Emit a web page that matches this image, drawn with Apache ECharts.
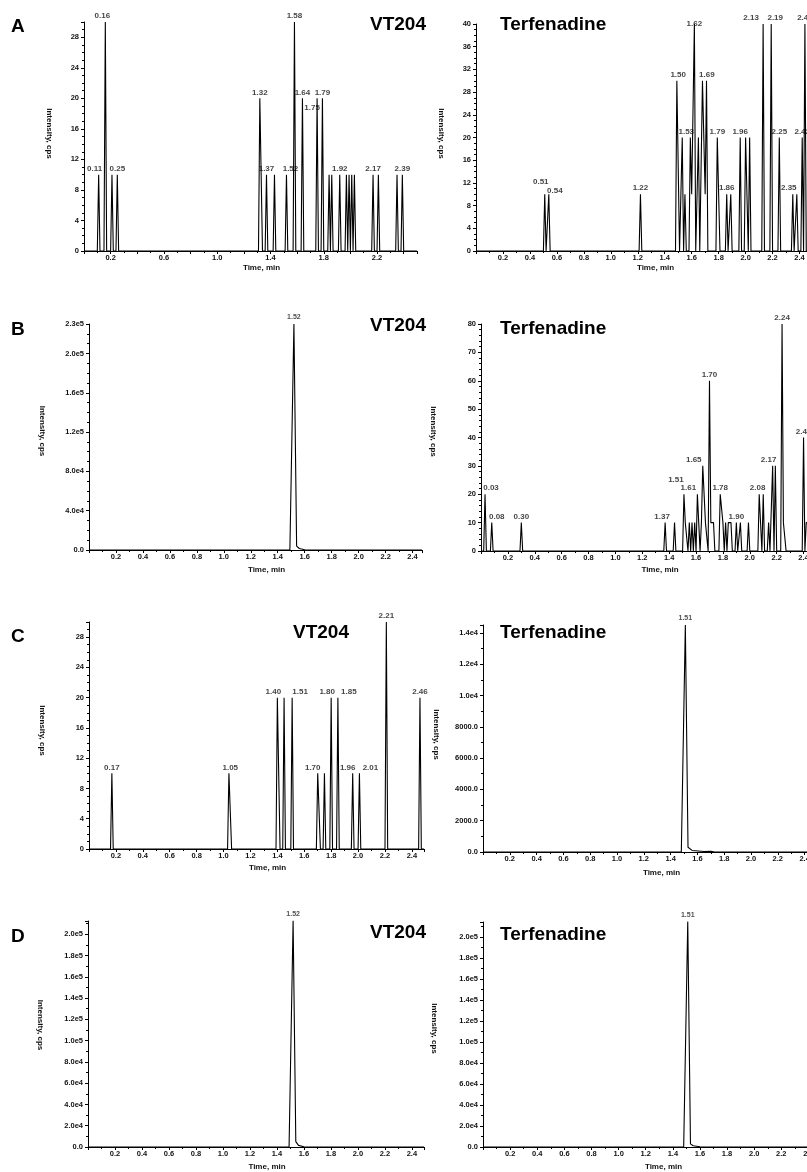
<!DOCTYPE html>
<html>
<head>
<meta charset="utf-8">
<title>VT204 / Terfenadine chromatograms</title>
<script src="https://cdn.jsdelivr.net/npm/echarts@6/dist/echarts.min.js"></script>
<style>
  html, body { margin: 0; padding: 0; background: #fff; }
  #chart { width: 807px; height: 1172px; }
</style>
</head>
<body>
<div id="chart"></div>
<script>
// every trace is a list of [time (min), intensity (cps)] vertices

// A - VT204
var traceVtA = [
  [0, 0], [0.10, 0], [0.11, 10], [0.12, 0], [0.15, 0], [0.16, 30], [0.17, 0], [0.20, 0], [0.21, 10], [0.22, 0],
  [0.24, 0], [0.25, 10], [0.26, 0], [1.31, 0], [1.32, 20], [1.33, 20], [1.34, 0], [1.36, 0], [1.37, 10], [1.38, 0],
  [1.42, 0], [1.43, 10], [1.44, 0], [1.51, 0], [1.52, 10], [1.53, 0], [1.57, 0], [1.58, 30], [1.59, 0], [1.63, 0],
  [1.64, 20], [1.65, 0], [1.74, 0], [1.75, 20], [1.76, 0], [1.78, 0], [1.79, 20], [1.80, 0], [1.83, 0], [1.84, 10],
  [1.85, 0], [1.86, 10], [1.87, 0], [1.91, 0], [1.92, 10], [1.93, 0], [1.96, 0], [1.97, 10], [1.98, 0], [1.99, 10],
  [2.00, 0], [2.01, 10], [2.02, 0], [2.03, 10], [2.04, 0], [2.16, 0], [2.17, 10], [2.18, 0], [2.20, 0], [2.21, 10],
  [2.22, 0], [2.34, 0], [2.35, 10], [2.36, 0], [2.38, 0], [2.39, 10], [2.40, 0], [2.50, 0]
];
var peaksVtA = [
  [0.11, 10, '0.11'], [0.16, 30, '0.16'], [0.25, 10, '0.25'], [1.32, 20, '1.32'], [1.37, 10, '1.37'],
  [1.52, 10, '1.52'], [1.58, 30, '1.58'], [1.64, 20, '1.64'], [1.75, 20, '1.75'], [1.79, 20, '1.79'],
  [1.92, 10, '1.92'], [2.17, 10, '2.17'], [2.39, 10, '2.39']
];

// A - Terfenadine
var traceTerA = [
  [0, 0], [0.50, 0], [0.51, 10], [0.52, 0], [0.53, 0], [0.54, 10], [0.55, 0], [1.21, 0], [1.22, 10], [1.23, 0],
  [1.48, 0], [1.49, 30], [1.50, 30], [1.51, 0], [1.52, 0], [1.53, 20], [1.54, 0], [1.55, 10], [1.56, 0], [1.58, 0],
  [1.59, 20], [1.60, 10], [1.61, 10], [1.62, 40], [1.63, 0], [1.64, 0], [1.65, 20], [1.66, 0], [1.67, 0], [1.68, 30],
  [1.69, 30], [1.70, 10], [1.71, 30], [1.72, 0], [1.78, 0], [1.79, 20], [1.80, 10], [1.81, 0], [1.85, 0], [1.86, 10],
  [1.87, 0], [1.88, 0], [1.89, 10], [1.90, 0], [1.95, 0], [1.96, 20], [1.97, 0], [1.99, 0], [2.00, 20], [2.01, 20],
  [2.02, 0], [2.03, 20], [2.04, 0], [2.12, 0], [2.13, 40], [2.14, 0], [2.18, 0], [2.19, 40], [2.20, 0], [2.24, 0],
  [2.25, 20], [2.26, 0], [2.34, 0], [2.35, 10], [2.36, 0], [2.37, 0], [2.38, 10], [2.39, 0], [2.41, 0], [2.42, 20],
  [2.43, 0], [2.44, 40], [2.45, 0], [2.50, 0]
];
var peaksTerA = [
  [0.51, 10, '0.51'], [0.54, 10, '0.54'], [1.22, 10, '1.22'], [1.50, 30, '1.50'], [1.53, 20, '1.53'],
  [1.62, 40, '1.62'], [1.69, 30, '1.69'], [1.79, 20, '1.79'], [1.86, 10, '1.86'], [1.96, 20, '1.96'],
  [2.13, 40, '2.13'], [2.19, 40, '2.19'], [2.25, 20, '2.25'], [2.35, 10, '2.35'], [2.42, 20, '2.42'],
  [2.44, 40, '2.44']
];

// B - VT204
var traceVtB = [[0, 0], [1.49, 0], [1.52, 230000], [1.54, 4000], [1.56, 1500], [1.60, 300], [1.65, 0], [2.47, 0]];
var peaksVtB = [[1.52, 230000, '1.52']];

// B - Terfenadine
var traceTerB = [
  [0, 0], [0.02, 0], [0.03, 20], [0.04, 0], [0.07, 0], [0.08, 10], [0.09, 0], [0.29, 0], [0.30, 10], [0.31, 0],
  [1.36, 0], [1.37, 10], [1.38, 0], [1.43, 0], [1.44, 10], [1.45, 0], [1.50, 0], [1.51, 20], [1.52, 10], [1.53, 10],
  [1.54, 0], [1.55, 10], [1.56, 0], [1.57, 10], [1.58, 0], [1.59, 10], [1.60, 0], [1.61, 20], [1.62, 10], [1.63, 0],
  [1.64, 10], [1.65, 30], [1.66, 30], [1.67, 10], [1.68, 10], [1.69, 0], [1.70, 60], [1.71, 10], [1.72, 10], [1.73, 10],
  [1.74, 0], [1.77, 0], [1.78, 20], [1.79, 20], [1.80, 10], [1.81, 0], [1.82, 10], [1.83, 0], [1.84, 10], [1.85, 10],
  [1.86, 10], [1.87, 0], [1.89, 0], [1.90, 10], [1.91, 0], [1.92, 0], [1.93, 10], [1.94, 0], [1.98, 0], [1.99, 10],
  [2.00, 0], [2.06, 0], [2.07, 20], [2.08, 20], [2.09, 0], [2.10, 20], [2.11, 0], [2.13, 0], [2.14, 10], [2.15, 0],
  [2.16, 0], [2.17, 30], [2.18, 0], [2.19, 30], [2.20, 0], [2.23, 0], [2.24, 80], [2.25, 10], [2.26, 10], [2.27, 0],
  [2.39, 0], [2.40, 40], [2.41, 0], [2.42, 10], [2.43, 10], [2.44, 10], [2.45, 0], [2.50, 0]
];
var peaksTerB = [
  [0.03, 20, '0.03'], [0.08, 10, '0.08'], [0.30, 10, '0.30'], [1.37, 10, '1.37'], [1.51, 20, '1.51'],
  [1.61, 20, '1.61'], [1.65, 30, '1.65'], [1.70, 60, '1.70'], [1.78, 20, '1.78'], [1.90, 10, '1.90'],
  [2.08, 20, '2.08'], [2.17, 30, '2.17'], [2.24, 80, '2.24'], [2.40, 40, '2.40']
];

// C - VT204
var traceVtC = [
  [0, 0], [0.16, 0], [0.17, 10], [0.18, 0], [1.03, 0], [1.04, 10], [1.05, 10], [1.06, 0], [1.39, 0], [1.40, 20],
  [1.41, 20], [1.42, 0], [1.44, 0], [1.45, 20], [1.46, 0], [1.50, 0], [1.51, 20], [1.52, 0], [1.69, 0], [1.70, 10],
  [1.71, 10], [1.72, 0], [1.74, 0], [1.75, 10], [1.76, 0], [1.79, 0], [1.80, 20], [1.81, 0], [1.84, 0], [1.85, 20],
  [1.86, 0], [1.95, 0], [1.96, 10], [1.97, 0], [2.00, 0], [2.01, 10], [2.02, 0], [2.20, 0], [2.21, 30], [2.22, 0],
  [2.45, 0], [2.46, 20], [2.47, 0], [2.49, 0]
];
var peaksVtC = [
  [0.17, 10, '0.17'], [1.05, 10, '1.05'], [1.40, 20, '1.40'], [1.51, 20, '1.51'], [1.70, 10, '1.70'],
  [1.80, 20, '1.80'], [1.85, 20, '1.85'], [1.96, 10, '1.96'], [2.01, 10, '2.01'], [2.21, 30, '2.21'],
  [2.46, 20, '2.46']
];

// C - Terfenadine
var traceTerC = [[0, 0], [1.48, 0], [1.51, 14500], [1.53, 300], [1.56, 100], [1.65, 30], [1.70, 50], [1.73, 0], [2.50, 0]];
var peaksTerC = [[1.51, 14500, '1.51']];

// D - VT204
var traceVtD = [[0, 0], [1.49, 0], [1.52, 213000], [1.54, 5000], [1.56, 1500], [1.60, 300], [1.65, 0], [2.49, 0]];
var peaksVtD = [[1.52, 213000, '1.52']];

// D - Terfenadine
var traceTerD = [[0, 0], [1.48, 0], [1.51, 215000], [1.53, 3000], [1.55, 1200], [1.60, 300], [1.65, 0], [2.50, 0]];
var peaksTerD = [[1.51, 215000, '1.51']];

// label shifts (px) where the software moved a peak label aside
var nudgeVtA = { '0.11': [-4, 0], '0.16': [-3, 0], '1.52': [4, 0], '1.75': [-5, 15] };
var nudgeTerA = { '0.51': [-4, -6], '0.54': [6, 3], '1.53': [4, 0], '1.62': [0, 6], '1.69': [3, 0], '2.13': [-12, 0], '2.19': [4, 0], '2.35': [-4, 0] };
var nudgeTerB = { '0.03': [6, 0], '0.08': [5, 0], '1.37': [-3, 0], '1.51': [-8, -8], '1.61': [-9, 0], '1.65': [-9, 0], '2.08': [-3, 0], '2.17': [-4, 0] };
var nudgeVtC = { '1.40': [-4, 0], '1.51': [8, 0], '1.70': [-5, 0], '1.80': [-4, 0], '1.85': [11, 0], '1.96': [-5, 0], '2.01': [11, 0] };

var FONT = '"Liberation Sans", Arial, sans-serif';

function fmtInt(v) { return String(v); }
function fmtExp(v) { return v === 0 ? '0.0' : v.toExponential(1).replace('e+', 'e'); }
function fmtMixed(v) { return v >= 10000 ? fmtExp(v) : v.toFixed(1); }

// box = [left, top, width, height] of the plot area in px (right-hand panels run past the page edge)
// yUp = px the "Intensity, cps" title sits above the plot middle
var panels = [
  { trace: traceVtA, peaks: peaksVtA, nudge: nudgeVtA, box: [84, 22, 333, 229], xMax: 2.5, yMax: 30, yStep: 4, yMinor: 4, yFmt: fmtInt, showYMax: false, xEvery: 4, yGap: 31, yUp: 3, xGap: 13, big: false },
  { trace: traceTerA, peaks: peaksTerA, nudge: nudgeTerA, box: [476, 24, 337, 227], xMax: 2.5, yMax: 40, yStep: 4, yMinor: 4, yFmt: fmtInt, showYMax: true, xEvery: 2, yGap: 31, yUp: 4, xGap: 13, big: false },
  { trace: traceVtB, peaks: peaksVtB, nudge: {}, box: [89, 324, 333, 226], xMax: 2.47, yMax: 230000, yStep: 40000, yMinor: 4, yFmt: fmtExp, showYMax: true, xEvery: 2, yGap: 43, yUp: 6, xGap: 16, big: true },
  { trace: traceTerB, peaks: peaksTerB, nudge: nudgeTerB, box: [481, 324, 336, 227], xMax: 2.5, yMax: 80, yStep: 10, yMinor: 5, yFmt: fmtInt, showYMax: true, xEvery: 2, yGap: 44, yUp: 6, xGap: 15, big: false },
  { trace: traceVtC, peaks: peaksVtC, nudge: nudgeVtC, box: [89, 622, 335, 227], xMax: 2.49, yMax: 30, yStep: 4, yMinor: 4, yFmt: fmtInt, showYMax: false, xEvery: 2, yGap: 43, yUp: 5, xGap: 15, big: false },
  { trace: traceTerC, peaks: peaksTerC, nudge: {}, box: [483, 625, 335, 227], xMax: 2.5, yMax: 14500, yStep: 2000, yMinor: 2, yFmt: fmtMixed, showYMax: false, xEvery: 2, yGap: 43, yUp: 4, xGap: 17, big: true },
  { trace: traceVtD, peaks: peaksVtD, nudge: {}, box: [88, 921, 336, 226], xMax: 2.49, yMax: 212500, yStep: 20000, yMinor: 2, yFmt: fmtExp, showYMax: false, xEvery: 2, yGap: 44, yUp: 9, xGap: 16, big: true },
  { trace: traceTerD, peaks: peaksTerD, nudge: {}, box: [483, 922, 339, 225], xMax: 2.5, yMax: 214300, yStep: 20000, yMinor: 2, yFmt: fmtExp, showYMax: false, xEvery: 2, yGap: 45, yUp: 6, xGap: 16, big: true }
];

// panel letters and compound names: [text, left, top, size]
var headings = [
  ['A', 11, 17, 19], ['VT204', 370, 15, 19], ['Terfenadine', 500, 15, 19],
  ['B', 11, 320, 19], ['VT204', 370, 316, 19], ['Terfenadine', 500, 319, 19],
  ['C', 11, 627, 19], ['VT204', 293, 623, 19], ['Terfenadine', 500, 623, 19],
  ['D', 11, 927, 19], ['VT204', 370, 923, 19], ['Terfenadine', 500, 925, 19]
];

function xLabel(every) {
  return function (v) {
    var k = Math.round(v * 10);
    if (k === 0 || Math.abs(v * 10 - k) > 1e-6) return '';
    if (every === 4 && k % 4 !== 2) return '';
    if (every === 2 && k % 2 !== 0) return '';
    return v.toFixed(1);
  };
}

var grids = [], xAxes = [], yAxes = [], series = [];
panels.forEach(function (p, i) {
  grids.push({ left: p.box[0], top: p.box[1], width: p.box[2], height: p.box[3], outerBoundsMode: 'none', containLabel: false });
  xAxes.push({
    type: 'value', gridIndex: i, min: 0, max: p.xMax, interval: 0.2,
    name: 'Time, min', nameLocation: 'middle', nameGap: p.xGap,
    nameTextStyle: { fontSize: 8, fontWeight: 'bold', color: '#111', fontFamily: FONT, padding: [0, 0, 0, 22] },
    axisLine: { onZero: false, lineStyle: { color: '#000', width: 1 } },
    axisTick: { length: 3, lineStyle: { color: '#000' } },
    minorTick: { show: true, splitNumber: 2, length: 2, lineStyle: { color: '#000' } },
    splitLine: { show: false },
    axisLabel: { margin: 3, fontSize: 7.5, fontWeight: 'bold', color: '#111', fontFamily: FONT, formatter: xLabel(p.xEvery), showMinLabel: false, showMaxLabel: true }
  });
  yAxes.push({
    type: 'value', gridIndex: i, min: 0, max: p.yMax, interval: p.yStep,
    name: 'Intensity, cps', nameLocation: 'middle', nameRotate: -90, nameGap: p.yGap,
    nameTextStyle: { fontSize: 8, fontWeight: 'bold', color: '#111', fontFamily: FONT, padding: [0, p.yUp * 2, 0, 0] },
    axisLine: { show: true, lineStyle: { color: '#000', width: 1 } },
    axisTick: { show: true, length: 3, lineStyle: { color: '#000' } },
    minorTick: { show: true, splitNumber: p.yMinor, length: 2, lineStyle: { color: '#000' } },
    splitLine: { show: false },
    axisLabel: { margin: 5, fontSize: 7.5, fontWeight: 'bold', color: '#111', fontFamily: FONT, formatter: p.yFmt, showMaxLabel: p.showYMax }
  });
  series.push({
    type: 'line', xAxisIndex: i, yAxisIndex: i, data: p.trace,
    symbol: 'none', silent: true, animation: false,
    lineStyle: { color: '#000', width: 1.1 }
  });
  series.push({
    type: 'scatter', xAxisIndex: i, yAxisIndex: i, symbolSize: 0, silent: true, animation: false, clip: false,
    data: p.peaks.map(function (pk) {
      return { value: [pk[0], pk[1]], name: pk[2], label: { offset: p.nudge[pk[2]] || [0, 0] } };
    }),
    label: {
      show: true, position: 'top', distance: p.big ? 3 : 2, formatter: '{b}',
      fontSize: p.big ? 7 : 8, fontWeight: 'bold',
      color: p.big ? '#222' : '#111', fontFamily: FONT
    }
  });
});

var titles = headings.map(function (h) {
  return { text: h[0], left: h[1], top: h[2], padding: 0, textStyle: { fontSize: h[3], fontWeight: 'bold', color: '#000', fontFamily: FONT } };
});

var chart = echarts.init(document.getElementById('chart'), null, { renderer: 'canvas' });
chart.setOption({
  backgroundColor: '#fff',
  animation: false,
  title: titles,
  grid: grids,
  xAxis: xAxes,
  yAxis: yAxes,
  series: series
});
</script>
</body>
</html>
